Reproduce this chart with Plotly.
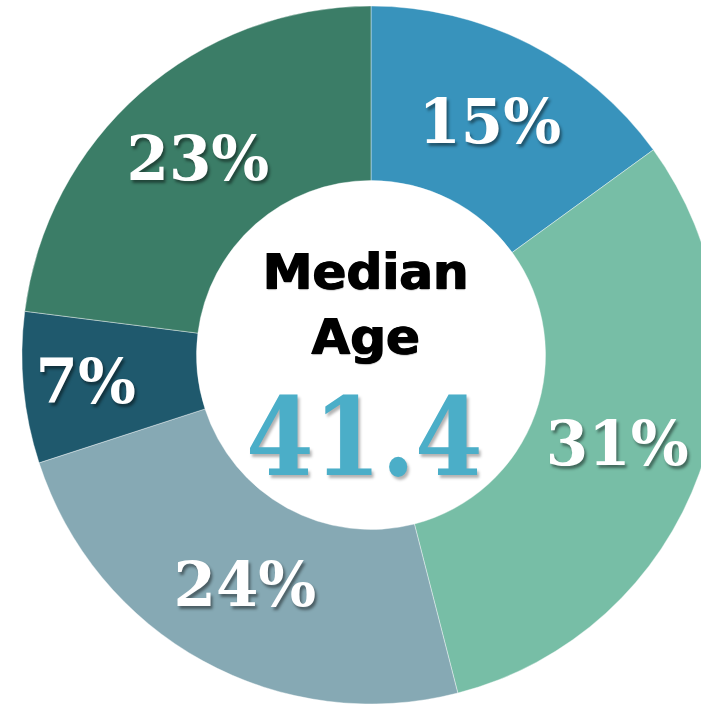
import plotly.graph_objects as go

# Data
segments = ["Segment A", "Segment B", "Segment C", "Segment D", "Segment E"]
shares = [15, 31, 24, 7, 23]
colors = ["#3893BC", "#77BEA6", "#86A9B4", "#1F596D", "#3B7D67"]
center_title = "Median<br>Age"
median_age = "41.4"

W, H = 720, 704
cx, cy, R = 371, 355, 349

fig = go.Figure(go.Pie(
    labels=segments,
    values=shares,
    sort=False,
    direction="clockwise",
    rotation=0,
    hole=0.5,
    marker=dict(colors=colors, line=dict(color="rgba(255,255,255,0.4)", width=1)),
    texttemplate="%{value}%",
    textposition="inside",
    insidetextorientation="horizontal",
    textfont=dict(family="DejaVu Serif", size=61, color="white",
                  weight="bold", shadow="2px 3px 3px rgba(0,0,0,0.45)"),
    domain=dict(x=[(cx - R) / W, (cx + R) / W], y=[(H - cy - R) / H, (H - cy + R) / H]),
    showlegend=False,
    hoverinfo="skip",
))

fig.add_annotation(x=365 / W, y=1 - 304 / H, xref="paper", yref="paper",
                   text=center_title, showarrow=False,
                   font=dict(family="DejaVu Sans", size=50, color="black", weight="bold",
                             shadow="1.5px 0 0 #000, 0.75px 0 0 #000, 1px 1px 1px rgba(0,0,0,0.3)"),
                   yanchor="middle", xanchor="center")
fig.add_annotation(x=364 / W, y=1 - 437 / H, xref="paper", yref="paper",
                   text=median_age, showarrow=False,
                   font=dict(family="DejaVu Serif Condensed", size=108, color="#4BAEC8",
                             weight="bold", shadow="2px 3px 3px rgba(0,0,0,0.3)"),
                   yanchor="middle", xanchor="center")

fig.update_layout(width=W, height=H, margin=dict(l=0, r=0, t=0, b=0),
                  paper_bgcolor="white", plot_bgcolor="white")

fig.write_html("out.html", config={"displayModeBar": False},
               post_script="document.body.style.margin='0';document.body.style.overflow='hidden';")
